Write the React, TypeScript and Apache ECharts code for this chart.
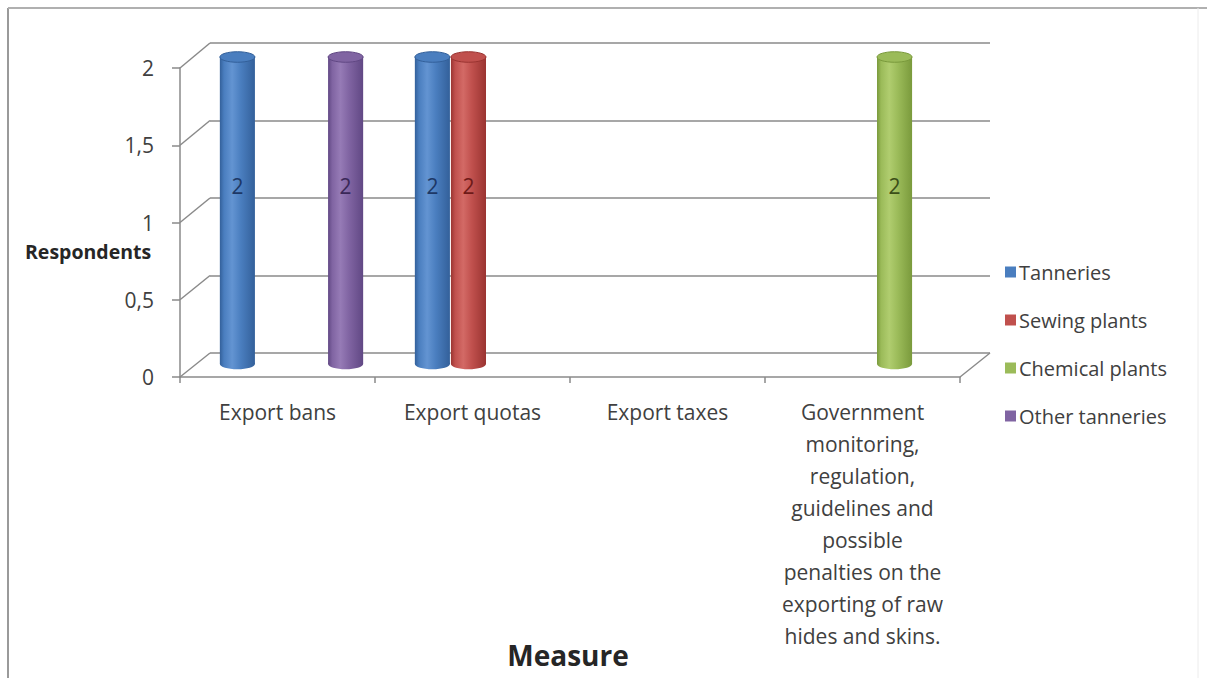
import React, { useEffect, useRef } from "react";
import * as echarts from "echarts";

// Categories and respondent counts per group
const measures = [
  "Export bans",
  "Export quotas",
  "Export taxes",
  "Government\nmonitoring,\nregulation,\nguidelines and\npossible\npenalties on the\nexporting of raw\nhides and skins.",
];
const seriesNames = ["Tanneries", "Sewing plants", "Chemical plants", "Other tanneries"];
const tanneries: (number | null)[] = [2, 2, null, null];
const sewingPlants: (number | null)[] = [null, 2, null, null];
const chemicalPlants: (number | null)[] = [null, null, null, 2];
const otherTanneries: (number | null)[] = [2, null, null, null];
const yTicks = [0, 0.5, 1, 1.5, 2];

const seriesValues = [tanneries, sewingPlants, chemicalPlants, otherTanneries];

// Cylinder colour sets: [base, light, dark, label]
const palettes = [
  ["#4a7ebf", "#6394d2", "#33609a", "#1d3866"],
  ["#c0504d", "#d36a66", "#9a3431", "#6e1a18"],
  ["#9bbb59", "#b0cd6f", "#7a9a3c", "#3b4f18"],
  ["#8064a2", "#967bb6", "#614884", "#3a2858"],
];

const FONT = "'Open Sans', 'Noto Sans', sans-serif";
const TEXT = "#404040";
const GRID_LINE = "#8a8a8a";
const CAT_GAP = 0.26;

// Three planes of the pseudo-3D box: front (axes), back wall (gridlines), middle (cylinders)
const FRONT = { left: 180, right: 247, top: 68, bottom: 301 };
const BACK = { left: 210, right: 217, top: 43, bottom: 325 };
const MID = { left: 194, right: 233, top: 57, bottom: 314 };

function makeCylinder(slot: number) {
  const [base, light, dark, labelColor] = palettes[slot];
  return (params: any, api: any) => {
    const v = api.value(1);
    if (!(v > 0)) return null;
    const cat = api.value(0);
    const bottom = api.coord([cat, 0]);
    const top = api.coord([cat, v]);
    const band = api.size([1, 0])[0];
    const used = band * (1 - CAT_GAP);
    const slotW = used / seriesValues.length;
    const cx = bottom[0] - used / 2 + slotW * (slot + 0.5);
    const w = slotW - 1;
    const rx = w / 2;
    const ry = w * 0.15;
    const bodyFill = new echarts.graphic.LinearGradient(0, 0, 1, 0, [
      { offset: 0, color: dark },
      { offset: 0.12, color: base },
      { offset: 0.35, color: light },
      { offset: 0.6, color: base },
      { offset: 1, color: dark },
    ]);
    const labelY = api.coord([cat, v * 0.58])[1];
    return {
      type: "group",
      children: [
        {
          type: "ellipse",
          shape: { cx, cy: bottom[1], rx, ry },
          style: { fill: bodyFill },
        },
        {
          type: "rect",
          shape: { x: cx - rx, y: top[1], width: w, height: bottom[1] - top[1] },
          style: { fill: bodyFill },
        },
        {
          type: "ellipse",
          shape: { cx, cy: top[1], rx, ry },
          style: { fill: base, stroke: dark, lineWidth: 1 },
        },
        {
          type: "text",
          style: {
            text: String(v),
            x: cx,
            y: labelY,
            align: "center",
            verticalAlign: "middle",
            fill: labelColor,
            font: `21px ${FONT}`,
          },
        },
      ],
    };
  };
}

export default function App() {
  const ref = useRef<HTMLDivElement>(null);

  useEffect(() => {
    if (!ref.current) return;
    const chart = echarts.init(ref.current, null, { renderer: "svg" });

    const valueAxisBase = { type: "value", min: 0, max: 2, interval: 0.5 };

    chart.setOption({
      animation: false,
      backgroundColor: "#ffffff",
      textStyle: { fontFamily: FONT },
      grid: [
        { ...FRONT },
        { ...BACK },
        { ...MID },
      ],
      xAxis: [
        {
          type: "category",
          gridIndex: 0,
          data: measures,
          axisLine: { show: true, lineStyle: { color: GRID_LINE, width: 1.5 } },
          axisTick: { show: true, length: 6, lineStyle: { color: GRID_LINE, width: 1.5 } },
          axisLabel: {
            interval: 0,
            margin: 19,
            fontSize: 21,
            lineHeight: 32,
            color: TEXT,
            fontFamily: FONT,
          },
        },
        { type: "category", gridIndex: 1, data: measures, show: false },
        { type: "category", gridIndex: 2, data: measures, show: false },
      ],
      yAxis: [
        {
          ...valueAxisBase,
          gridIndex: 0,
          axisLine: { show: true, lineStyle: { color: GRID_LINE, width: 1.5 } },
          axisTick: { show: true, length: 8, lineStyle: { color: GRID_LINE, width: 1.5 } },
          splitLine: { show: false },
          axisLabel: {
            margin: 26,
            fontSize: 21,
            color: TEXT,
            fontFamily: FONT,
            formatter: (v: number) => String(v).replace(".", ","),
          },
        },
        {
          ...valueAxisBase,
          gridIndex: 1,
          axisLine: { show: false },
          axisTick: { show: false },
          axisLabel: { show: false },
          splitLine: { show: true, lineStyle: { color: GRID_LINE, width: 1.5 } },
        },
        { ...valueAxisBase, gridIndex: 2, show: false },
      ],
      legend: {
        orient: "vertical",
        left: 1000,
        top: 256,
        itemWidth: 11,
        itemHeight: 11,
        itemGap: 26,
        icon: "rect",
        data: seriesNames,
        textStyle: { fontSize: 20, lineHeight: 22, color: TEXT, fontFamily: FONT, padding: [0, 0, 0, -2] },
      },
      series: seriesValues.map((vals, i) => ({
        type: "custom",
        name: seriesNames[i],
        xAxisIndex: 2,
        yAxisIndex: 2,
        itemStyle: { color: palettes[i][0] },
        renderItem: makeCylinder(i),
        data: vals.map((v, k) => [k, v]),
      })),
    });

    // Side walls and floor edges joining the front axes to the back wall
    const frontY = (t: number) => chart.convertToPixel({ yAxisIndex: 0 }, t) as number;
    const backY = (t: number) => chart.convertToPixel({ yAxisIndex: 1 }, t) as number;
    const width = chart.getWidth();
    const frontLeft = FRONT.left;
    const backLeft = BACK.left;
    const frontRight = width - FRONT.right;
    const backRight = width - BACK.right;
    const lineStyle = { stroke: GRID_LINE, lineWidth: 1.5 };

    const edges: any[] = yTicks.map((t) => ({
      type: "line",
      shape: { x1: frontLeft, y1: frontY(t), x2: backLeft, y2: backY(t) },
      style: lineStyle,
      z: 1,
    }));
    edges.push({
      type: "line",
      shape: { x1: frontRight, y1: frontY(0), x2: backRight, y2: backY(0) },
      style: lineStyle,
      z: 1,
    });

    chart.setOption({
      graphic: [
        ...edges,
        {
          type: "line",
          shape: { x1: 8, y1: 8, x2: 8, y2: 678 },
          style: { stroke: "#9a9a9a", lineWidth: 2 },
        },
        {
          type: "line",
          shape: { x1: 8, y1: 8, x2: 1207, y2: 8 },
          style: { stroke: "#b0b0b0", lineWidth: 2 },
        },
        {
          type: "line",
          shape: { x1: 1198, y1: 8, x2: 1198, y2: 678 },
          style: { stroke: "#ececec", lineWidth: 1 },
        },
        {
          type: "text",
          x: 25,
          y: 251,
          style: {
            text: "Respondents",
            verticalAlign: "middle",
            font: `bold 19.5px ${FONT}`,
            fill: "#262626",
          },
        },
        {
          type: "text",
          x: 568,
          y: 655,
          style: {
            text: "Measure",
            align: "center",
            verticalAlign: "middle",
            font: `bold 28px ${FONT}`,
            fill: "#262626",
          },
        },
      ],
    });

    return () => chart.dispose();
  }, []);

  return (
    <div
      ref={ref}
      style={{ position: "absolute", left: 0, top: 0, width: 1207, height: 678 }}
    />
  );
}
